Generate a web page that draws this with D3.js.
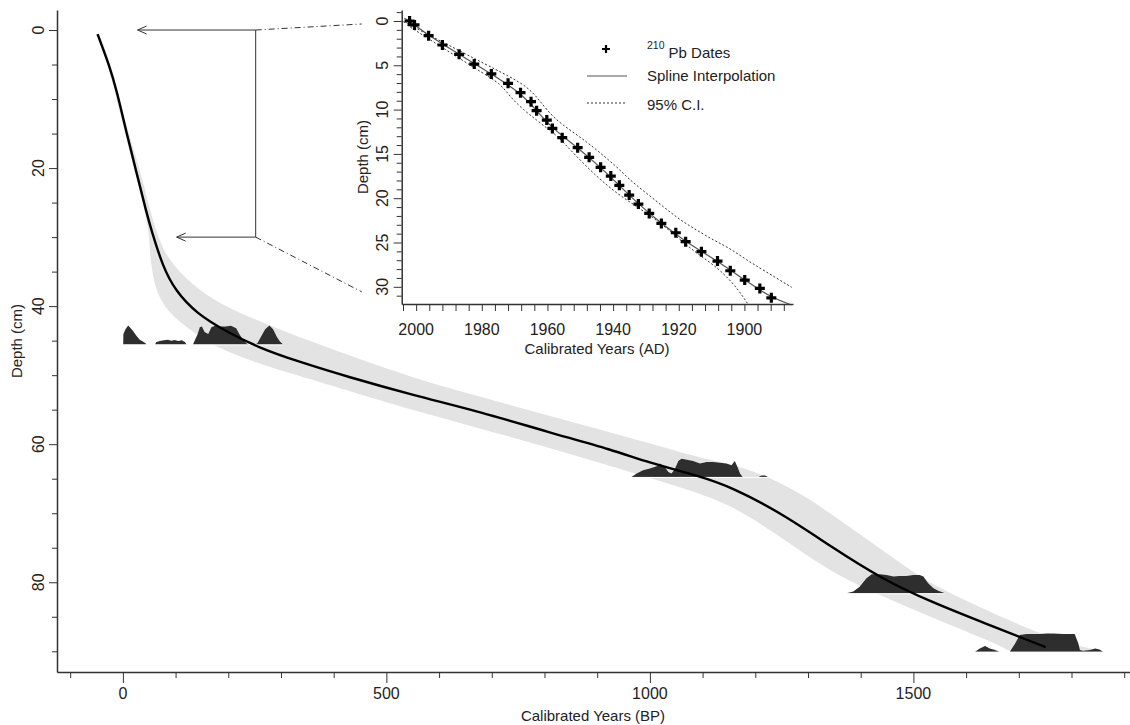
<!DOCTYPE html>
<html lang="en">
<head>
<meta charset="UTF-8">
<title>Age-depth model</title>
<script src="https://cdn.jsdelivr.net/npm/d3@7"></script>
<style>
  body { margin: 0; background: #fff; }
  svg { display: block; font-family: "Liberation Sans", Arial, sans-serif; }
</style>
</head>
<body>
<svg id="chart"></svg>
<script>
// ---- main age-depth model (years BP vs depth cm)
var modelYears  = [-48, -25, -12, 7, 26, 45, 54, 76, 99, 140, 197, 260, 336, 425, 551, 678, 805, 932, 995, 1097, 1154, 1250, 1345, 1440, 1535, 1631, 1751];
var modelDepths = [0.6, 5.3, 8.7, 14.9, 20.7, 26.5, 29.0, 34.3, 37.7, 41.1, 43.7, 46.1, 48.1, 50.2, 52.9, 55.3, 58.2, 60.9, 62.6, 64.7, 66.2, 70.0, 74.9, 79.5, 82.9, 85.8, 89.4];

// confidence envelope, young and old edges
var bandLowYears  = [-51, -28, -12, 4, 21, 38, 46, 50, 51, 57, 73, 102, 146, 178, 222, 285, 361, 425, 551, 677, 804, 931, 1057, 1152, 1247, 1310, 1373, 1468, 1563, 1658, 1680];
var bandLowDepths = [0.6, 5, 10, 15, 20, 25, 28, 30, 32, 36.2, 39.6, 42.0, 44.4, 45.9, 47.3, 49.0, 50.7, 52.2, 55.1, 57.7, 60.4, 63.3, 66.2, 68.6, 73.4, 76.8, 79.7, 82.9, 86.0, 88.9, 89.9];
var bandHighYears  = [-45, -22, -6, 11, 38, 61, 83, 121, 171, 222, 285, 349, 436, 550, 677, 804, 930, 1025, 1095, 1183, 1278, 1342, 1405, 1468, 1531, 1626, 1721, 1816, 1860];
var bandHighDepths = [0.6, 5, 10, 15, 21.7, 29.0, 32.9, 36.2, 39.1, 41.0, 43.0, 44.9, 47.3, 50.4, 53.1, 55.8, 58.4, 60.4, 62.0, 63.3, 66.7, 70.0, 73.4, 76.8, 80.2, 83.6, 86.9, 89.4, 89.9];

// calibrated 14C probability distributions
var densDepths = [45.55, 64.74, 81.6, 90.07];
var dens1Years = [0.6, 1, 5, 10, 15, 20, 26, 32, 38, 43, 45, 61, 63, 70, 78, 85, 92, 98, 105, 112, 118, 121, 133, 137, 142, 146, 150, 155, 162, 168, 175, 185, 195, 205, 215, 222, 228, 235, 238, 250, 255, 262, 270, 278, 285, 292, 298, 304];
var dens1Prob  = [0, 0.55, 0.8, 1.0, 0.85, 0.68, 0.45, 0.25, 0.15, 0.06, 0, 0, 0.12, 0.18, 0.22, 0.25, 0.2, 0.24, 0.18, 0.22, 0.12, 0, 0, 0.25, 0.55, 0.9, 0.95, 0.65, 0.55, 0.9, 0.98, 0.95, 0.95, 0.98, 0.85, 0.5, 0.25, 0.05, 0, 0, 0.05, 0.4, 0.8, 1.0, 0.8, 0.4, 0.15, 0];
var dens2Years = [965, 975, 987, 1000, 1013, 1019, 1028, 1035, 1041, 1047, 1054, 1060, 1070, 1082, 1095, 1108, 1120, 1133, 1145, 1155, 1161, 1166, 1171, 1176, 1206, 1212, 1219, 1224];
var dens2Prob  = [0, 0.18, 0.35, 0.44, 0.56, 0.7, 0.53, 0.26, 0.18, 0.39, 0.84, 0.96, 0.91, 0.84, 0.7, 0.79, 0.79, 0.75, 0.7, 0.61, 0.84, 0.53, 0.18, 0, 0, 0.08, 0.08, 0];
var dens3Years = [1373, 1386, 1398, 1411, 1421, 1436, 1449, 1462, 1474, 1487, 1500, 1512, 1519, 1528, 1538, 1547, 1560];
var dens3Prob  = [0, 0.09, 0.35, 0.79, 1.0, 1.0, 0.96, 0.88, 0.91, 0.91, 0.96, 0.96, 0.88, 0.53, 0.26, 0.14, 0];
var dens4Years = [1617, 1626, 1636, 1645, 1655, 1663, 1683, 1693, 1702, 1715, 1740, 1753, 1765, 1784, 1806, 1813, 1816, 1822, 1835, 1845, 1853, 1860];
var dens4Prob  = [0, 0.17, 0.3, 0.17, 0.09, 0, 0, 0.44, 0.88, 0.93, 0.93, 0.96, 0.96, 0.93, 0.93, 0.44, 0.09, 0.05, 0.09, 0.17, 0.12, 0];

// ---- inset: 210Pb chronology (years AD)
var pbYears  = [2002.0, 2000.5, 1996.2, 1992.0, 1986.9, 1982.3, 1977.1, 1972.0, 1968.2, 1965.0, 1963.3, 1960.2, 1958.5, 1955.5, 1950.8, 1947.3, 1943.8, 1940.7, 1938.1, 1935.1, 1932.3, 1929.0, 1925.3, 1920.9, 1917.9, 1913.1, 1908.2, 1904.3, 1899.9, 1895.3, 1891.8];
var pbDepths = [0, 0.45, 1.66, 2.71, 3.76, 4.86, 5.98, 7.04, 8.09, 9.11, 10.12, 11.18, 12.12, 13.17, 14.30, 15.39, 16.52, 17.50, 18.55, 19.65, 20.66, 21.72, 22.85, 23.90, 24.91, 26.04, 27.10, 28.19, 29.24, 30.18, 31.24];
var splineYears  = [2003.6, 2002.0, 1996.2, 1986.9, 1977.1, 1968.2, 1963.3, 1958.5, 1950.8, 1943.8, 1938.1, 1932.3, 1925.3, 1917.9, 1908.2, 1899.9, 1891.8, 1885.6];
var splineDepths = [-0.3, 0, 1.66, 3.76, 5.98, 8.09, 10.12, 12.12, 14.30, 16.52, 18.55, 20.66, 22.85, 24.91, 27.10, 29.24, 31.24, 32.05];
var ciOldYears  = [2003.9, 1979.5, 1971.4, 1966.3, 1963.3, 1960.2, 1956.2, 1950.1, 1945.0, 1938.9, 1934.9, 1929.8, 1924.7, 1919.6, 1914.6, 1909.5, 1904.4, 1899.3, 1894.3, 1885.6];
var ciOldDepths = [0.08, 4.77, 6.29, 7.42, 8.54, 10.05, 11.55, 13.06, 14.56, 16.44, 17.95, 19.45, 20.96, 22.46, 23.59, 24.72, 25.66, 26.98, 28.10, 30.06];
var ciYoungYears  = [2002.8, 1980.5, 1974.4, 1971.4, 1967.3, 1963.3, 1960.2, 1957.2, 1952.1, 1945.0, 1938.9, 1932.8, 1926.7, 1920.6, 1914.6, 1908.5, 1903.4, 1900.4, 1899.1];
var ciYoungDepths = [0.45, 5.72, 7.03, 8.54, 10.05, 11.17, 12.11, 12.87, 14.93, 17.57, 19.45, 20.96, 22.46, 24.35, 26.22, 27.73, 29.61, 31.12, 31.86];

var mainXTicks = [0, 500, 1000, 1500];
var mainYTicks = [0, 20, 40, 60, 80];
var insetXTicks = [2000, 1980, 1960, 1940, 1920, 1900];
var insetYTicks = [0, 5, 10, 15, 20, 25, 30];
var zoomDepths = [0, 30];

var width = 1130, height = 725;
var svg = d3.select("#chart").attr("width", width).attr("height", height);
var axisColor = "#333";

function zip(a, b) { return a.map(function(v, i) { return [v, b[i]]; }); }

/* main scales */
var x = d3.scaleLinear().domain([-125, 1911]).range([57, 1130]);
var y = d3.scaleLinear().domain([-2.9, 93]).range([10, 672]);
var hScale = d3.scaleLinear().domain([0, 1]).range([0, 19]);

var curve = d3.line().x(function(d) { return x(d[0]); }).y(function(d) { return y(d[1]); }).curve(d3.curveBasis);

// envelope
var lowPath = curve(zip(bandLowYears, bandLowDepths));
var highPath = curve(zip(bandHighYears, bandHighDepths).reverse());
svg.append("path")
  .attr("d", lowPath + "L" + highPath.slice(1) + "Z")
  .attr("fill", "#e3e3e3");

// densities
var densSets = [[dens1Years, dens1Prob], [dens2Years, dens2Prob], [dens3Years, dens3Prob], [dens4Years, dens4Prob]];
densSets.forEach(function(s, k) {
  var base = y(densDepths[k]);
  var area = d3.area()
    .x(function(d) { return x(d[0]); })
    .y0(base)
    .y1(function(d) { return base - hScale(d[1]); });
  svg.append("path").attr("d", area(zip(s[0], s[1]))).attr("fill", "#2e2e2e");
  svg.append("line")
    .attr("x1", x(d3.min(s[0]))).attr("x2", x(d3.max(s[0])))
    .attr("y1", base + 0.5).attr("y2", base + 0.5)
    .attr("stroke", "#fff").attr("stroke-width", 1);
});

// model line
svg.append("path")
  .attr("d", curve(zip(modelYears, modelDepths)))
  .attr("fill", "none").attr("stroke", "#000").attr("stroke-width", 2.4);

/* main axes */
var gx = svg.append("g").attr("transform", "translate(0,672)");
gx.call(d3.axisBottom(x).tickValues(d3.range(-100, 1901, 100)).tickSize(6).tickSizeOuter(0).tickFormat(""));
gx.call(function(g) {
  g.selectAll(".tick").filter(function(d) { return mainXTicks.indexOf(d) >= 0; })
    .select("line").attr("y2", 11);
});
svg.append("g").selectAll("text").data(mainXTicks).enter().append("text")
  .attr("x", function(d) { return x(d); }).attr("y", 699)
  .attr("text-anchor", "middle").attr("font-size", 16).attr("fill", "#222")
  .text(function(d) { return d; });

var gy = svg.append("g").attr("transform", "translate(57,0)");
gy.call(d3.axisLeft(y).tickValues(d3.range(0, 91, 5)).tickSize(5).tickSizeOuter(0).tickFormat(""));
gy.call(function(g) {
  g.selectAll(".tick").filter(function(d) { return mainYTicks.indexOf(d) >= 0; })
    .select("line").attr("x2", -8);
});
svg.append("g").selectAll("text").data(mainYTicks).enter().append("text")
  .attr("transform", function(d) { return "translate(44," + y(d) + ") rotate(-90)"; })
  .attr("text-anchor", "middle").attr("font-size", 16).attr("fill", "#222")
  .text(function(d) { return d; });

[gx, gy].forEach(function(g) {
  g.selectAll("path, line").attr("stroke", axisColor);
  g.select(".domain").attr("stroke-width", 1.5);
});

svg.append("text").attr("x", 593).attr("y", 721).attr("text-anchor", "middle")
  .attr("font-size", 15).attr("fill", "#222").text("Calibrated Years (BP)");
svg.append("text").attr("transform", "translate(22,341) rotate(-90)").attr("text-anchor", "middle")
  .attr("font-size", 15).attr("fill", "#222").text("Depth (cm)");

/* inset scales */
var xIn = d3.scaleLinear().domain([2004.4, 1885.2]).range([401.7, 793]);
var yIn = d3.scaleLinear().domain([-1.24, 31.94]).range([10, 304]);

// zoom arrows
var bx = x(252);
var arrowTips = [28, 102];
zoomDepths.forEach(function(dep, i) {
  var yy = y(dep), tx = x(arrowTips[i]);
  svg.append("path")
    .attr("d", "M" + bx + "," + yy + "H" + tx + "M" + (tx + 9) + "," + (yy - 4) + "L" + tx + "," + yy + "L" + (tx + 9) + "," + (yy + 4))
    .attr("fill", "none").attr("stroke", axisColor).attr("stroke-width", 1);
  svg.append("line")
    .attr("x1", bx).attr("y1", yy)
    .attr("x2", xIn.range()[0] - 40).attr("y2", yIn(dep) + (i === 0 ? 3 : 5))
    .attr("stroke", axisColor).attr("stroke-width", 1).attr("stroke-dasharray", "6,3,1,3");
});
svg.append("line").attr("x1", bx).attr("x2", bx).attr("y1", y(zoomDepths[0])).attr("y2", y(zoomDepths[1]))
  .attr("stroke", axisColor).attr("stroke-width", 1);

var lineIn = d3.line().x(function(d) { return xIn(d[0]); }).y(function(d) { return yIn(d[1]); }).curve(d3.curveBasis);

[[ciOldYears, ciOldDepths], [ciYoungYears, ciYoungDepths]].forEach(function(c) {
  svg.append("path").attr("d", lineIn(zip(c[0], c[1])))
    .attr("fill", "none").attr("stroke", "#333").attr("stroke-width", 1).attr("stroke-dasharray", "2,2");
});
svg.append("path").attr("d", lineIn(zip(splineYears, splineDepths)))
  .attr("fill", "none").attr("stroke", "#555").attr("stroke-width", 1.2);

function plus(cx, cy, r) {
  return "M" + (cx - r) + "," + cy + "H" + (cx + r) + "M" + cx + "," + (cy - r) + "V" + (cy + r);
}
svg.append("g").selectAll("path").data(zip(pbYears, pbDepths)).enter().append("path")
  .attr("d", function(d) { return plus(xIn(d[0]), yIn(d[1]), 5); })
  .attr("stroke", "#000").attr("stroke-width", 3.2).attr("fill", "none");

// inset axes
var gxi = svg.append("g").attr("transform", "translate(0,304)");
gxi.call(d3.axisBottom(xIn).tickValues(d3.range(2004, 1885, -4)).tickSize(7).tickSizeOuter(0).tickFormat(""));
svg.append("g").selectAll("text").data(insetXTicks).enter().append("text")
  .attr("x", function(d) { return xIn(d); }).attr("y", 335)
  .attr("text-anchor", "middle").attr("font-size", 16).attr("fill", "#222")
  .text(function(d) { return d; });

var gyi = svg.append("g").attr("transform", "translate(401.7,0)");
gyi.call(d3.axisLeft(yIn).tickValues(d3.range(-1, 32, 1)).tickSize(5).tickSizeOuter(0).tickFormat(""));
gyi.call(function(g) {
  g.selectAll(".tick").filter(function(d) { return insetYTicks.indexOf(d) >= 0; })
    .select("line").attr("x2", -8);
});
svg.append("g").selectAll("text").data(insetYTicks).enter().append("text")
  .attr("transform", function(d) { return "translate(387.5," + yIn(d) + ") rotate(-90)"; })
  .attr("text-anchor", "middle").attr("font-size", 16).attr("fill", "#222")
  .text(function(d) { return d; });

[gxi, gyi].forEach(function(g) {
  g.selectAll("path, line").attr("stroke", axisColor);
  g.select(".domain").attr("stroke-width", 1.5);
});

svg.append("text").attr("x", 597).attr("y", 354).attr("text-anchor", "middle")
  .attr("font-size", 15).attr("fill", "#222").text("Calibrated Years (AD)");
svg.append("text").attr("transform", "translate(368,157) rotate(-90)").attr("text-anchor", "middle")
  .attr("font-size", 15).attr("fill", "#222").text("Depth (cm)");

// legend
var leg = svg.append("g").attr("font-size", 15).attr("fill", "#222");
leg.append("path").attr("d", plus(606, 49, 4)).attr("stroke", "#000").attr("stroke-width", 2.2);
var t1 = leg.append("text").attr("x", 647).attr("y", 58);
t1.append("tspan").attr("font-size", 10.5).attr("dy", -9).text("210");
t1.append("tspan").attr("dx", 4).attr("dy", 9).text("Pb Dates");
leg.append("line").attr("x1", 587).attr("x2", 627).attr("y1", 76).attr("y2", 76).attr("stroke", "#555").attr("stroke-width", 1.2);
leg.append("text").attr("x", 647).attr("y", 81).text("Spline Interpolation");
leg.append("line").attr("x1", 587).attr("x2", 627).attr("y1", 103).attr("y2", 103).attr("stroke", "#333").attr("stroke-dasharray", "2,2");
leg.append("text").attr("x", 647).attr("y", 110).text("95% C.I.");
</script>
</body>
</html>
